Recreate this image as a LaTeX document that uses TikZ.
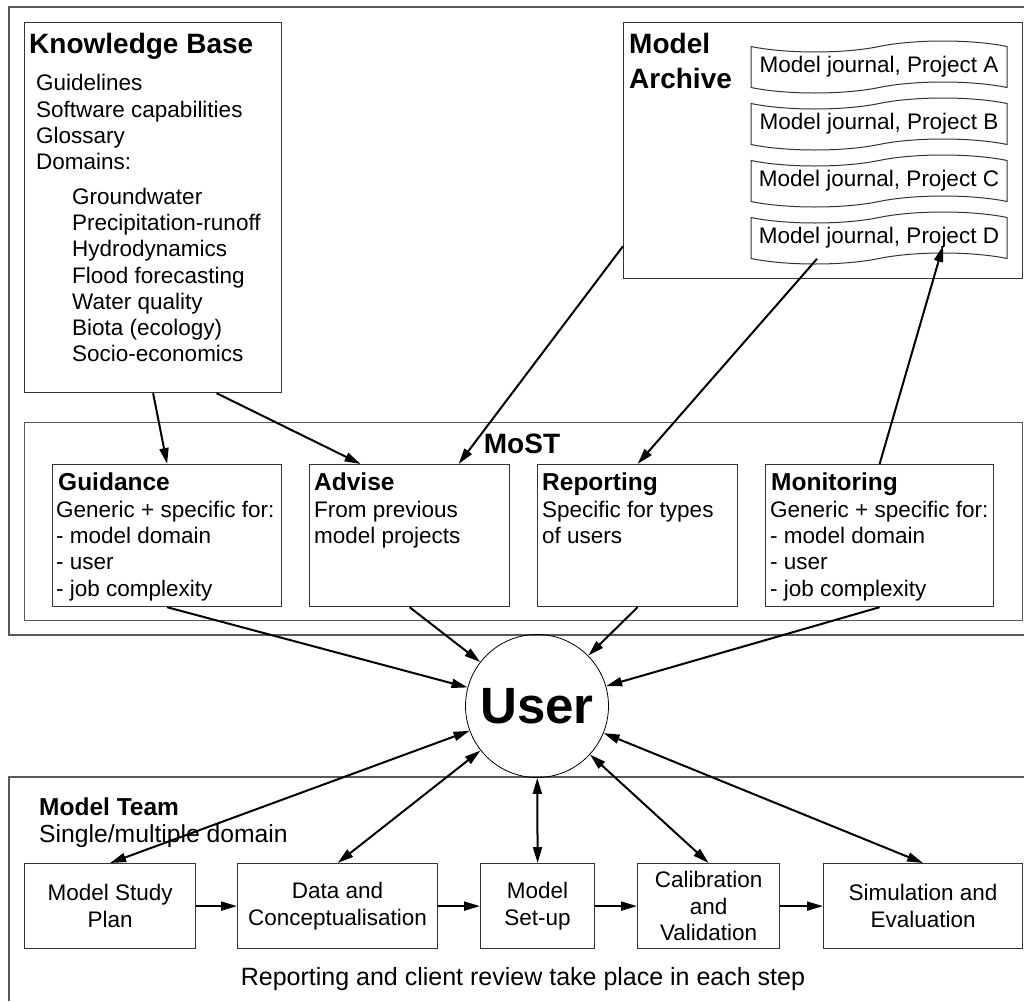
\documentclass[tikz,border=0pt]{standalone}
\usepackage{fontspec}
\setmainfont{Liberation Sans}
\usetikzlibrary{arrows.meta,shapes.symbols}

\tikzset{
  box/.style={draw=black!80,line width=1.2pt,anchor=north west,inner sep=0pt},
  frame/.style={draw=black!65,line width=1.4pt},
  txt/.style={anchor=north west,inner sep=0pt,align=left,font=\fontsize{22.5}{26.3}\selectfont},
  head/.style={anchor=base west,inner sep=0pt,font=\bfseries\fontsize{24.5}{26}\selectfont},
  bighead/.style={anchor=north west,inner sep=0pt,align=left,font=\bfseries\fontsize{28}{35}\selectfont},
  stepbox/.style={box,minimum height=85pt,align=center,font=\fontsize{22.5}{26.7}\selectfont},
  journal/.style={draw=black!80,line width=1pt,shape=tape,tape bend height=11pt,
    minimum width=256pt,minimum height=52pt,inner sep=0pt,font=\fontsize{22.5}{26}\selectfont},
  link/.style={line width=2pt,-{Triangle[length=16pt,width=9pt]}},
  dlink/.style={line width=2pt,{Triangle[length=16pt,width=9pt]}-{Triangle[length=16pt,width=9pt]}}
}

\begin{document}
\begin{tikzpicture}[x=1pt,y=-1pt]
        \useasboundingbox (0,0) rectangle (1024,1001);
        % outer frames
        \draw[frame] (1024,7) -- (9,7) -- (9,635) -- (1024,635);
        \draw[frame] (1024,777) -- (9,777) -- (9,1001);

        % knowledge base
        \node[box,minimum width=257pt,minimum height=370pt] (kb) at (24,22) {};
        \node[bighead,anchor=base west] (kbtitle) at (29,53) {Knowledge Base};
        \node[txt] (kbitems) at (36,74.3) {Guidelines\\Software capabilities\\Glossary\\Domains:};
        \node[txt] (kbdomains) at (72,187.6) {Groundwater\\Precipitation-runoff\\Hydrodynamics\\Flood forecasting\\Water quality\\Biota (ecology)\\Socio-economics};

        % model archive
        \node[box,minimum width=399pt,minimum height=256pt] (arch) at (623,22) {};
        \node[bighead] (archtitle) at (629,33) {Model\\Archive};
        \node[journal] (jA) at (879,67) {Model journal, Project A};
        \node[journal] (jB) at (879,124) {Model journal, Project B};
        \node[journal] (jC) at (879,181) {Model journal, Project C};
        \node[journal] (jD) at (879,238) {Model journal, Project D};

        % MoST
        \node[frame,anchor=north west,inner sep=0pt,minimum width=998pt,minimum height=198pt] (most) at (24,422) {};
        \node[anchor=base,inner sep=0pt,font=\bfseries\fontsize{28}{30}\selectfont] (mosttitle) at (522,453) {MoST};
        \node[box,minimum width=229pt,minimum height=142pt] (guid) at (52,464) {};
        \node[box,minimum width=200pt,minimum height=142pt] (adv) at (309,464) {};
        \node[box,minimum width=200pt,minimum height=142pt] (rep) at (537,464) {};
        \node[box,minimum width=228pt,minimum height=142pt] (mon) at (765,464) {};
        \node[head] (guidtitle) at (58,490) {Guidance};
        \node[head] (advtitle) at (314,490) {Advise};
        \node[head] (reptitle) at (542,490) {Reporting};
        \node[head] (montitle) at (771,490) {Monitoring};
        \node[txt] (guidtext) at (56,500.6) {Generic + specific for:\\- model domain\\- user\\- job complexity};
        \node[txt] (advtext) at (314,500.6) {From previous\\model projects};
        \node[txt] (reptext) at (542,500.6) {Specific for types\\of users};
        \node[txt] (montext) at (770,500.6) {Generic + specific for:\\- model domain\\- user\\- job complexity};

        % user
        \node[draw,circle,minimum size=143pt,inner sep=0pt,line width=0.8pt,
              font=\bfseries\fontsize{51}{51}\selectfont] (user) at (537,706) {User};

        % model team
        \node[head] (teamtitle) at (39,815) {Model Team};
        \node[anchor=base west,inner sep=0pt,font=\fontsize{24.7}{26}\selectfont] (teamtext) at (39,842.5) {Single/multiple domain};
        \node[stepbox,minimum width=171pt] (msp) at (24,863) {Model Study\\Plan};
        \node[stepbox,minimum width=200pt] (data) at (237,863) {Data and\\Conceptualisation};
        \node[stepbox,minimum width=114pt] (setup) at (480,863) {Model\\Set-up};
        \node[stepbox,minimum width=142pt] (calib) at (637,863) {Calibration\\and\\Validation};
        \node[stepbox,minimum width=199pt] (sim) at (823,863) {Simulation and\\Evaluation};
        \node[anchor=base,inner sep=0pt,font=\fontsize{25}{26}\selectfont] (note) at (523,985) {Reporting and client review take place in each step};

        % connectors
        \draw[link] (kb.south) -- (guid.north);
        \draw[link] ([xshift=63.5pt]kb.south) -- ([xshift=-49pt]adv.north);
        \draw[link] ([yshift=33pt]arch.south west) -- ([xshift=49pt]adv.north);
        \draw[link] ([xshift=-62pt]jD.south) -- (rep.north);
        \draw[link] (mon.north) -- ([xshift=64pt,yshift=13pt]jD.south);
        \draw[link] (guid.south) -- (user);
        \draw[link] (adv.south) -- (user);
        \draw[link] (rep.south) -- (user);
        \draw[link] (mon.south) -- (user);
        \draw[dlink] (user) -- (msp.north);
        \draw[dlink] (user) -- (data.north);
        \draw[dlink] (user) -- (setup.north);
        \draw[dlink] (user) -- (calib.north);
        \draw[dlink] (user) -- (sim.north);
        \draw[link] (msp.east) -- (data.west);
        \draw[link] (data.east) -- (setup.west);
        \draw[link] (setup.east) -- (calib.west);
        \draw[link] (calib.east) -- (sim.west);
\end{tikzpicture}
\end{document}
